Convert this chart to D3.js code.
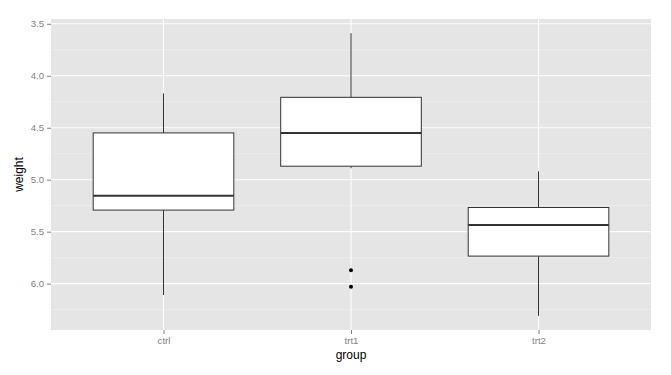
<!DOCTYPE html>
<html>
<head>
<meta charset="utf-8">
<script src="https://cdn.jsdelivr.net/npm/d3@7"></script>
<style>
body{margin:0;background:#fff;}
text{font-family:"Liberation Sans",Arial,sans-serif;}
</style>
</head>
<body>
<svg id="chart" width="671" height="375"></svg>
<script>
const groups = ["ctrl", "trt1", "trt2"];
const ctrl = [4.17, 5.58, 5.18, 6.11, 4.50, 4.61, 5.17, 4.53, 5.33, 5.14];
const trt1 = [4.81, 4.17, 4.41, 3.59, 5.87, 3.83, 6.03, 4.89, 4.32, 4.69];
const trt2 = [6.31, 5.12, 5.54, 5.50, 5.37, 5.29, 4.92, 6.15, 5.80, 5.26];
const yTicks = [3.5, 4.0, 4.5, 5.0, 5.5, 6.0];
const yMinor = [3.75, 4.25, 4.75, 5.25, 5.75, 6.25];
const yDomain = [3.454, 6.446];

const seriesData = {ctrl, trt1, trt2};
const svg = d3.select("#chart");
const pLeft = 51, pRight = 651, pTop = 19, pBottom = 330;

const y = d3.scaleLinear().domain(yDomain).range([pTop, pBottom]);
// discrete scale with 0.6 expansion on each side
const xi = d3.scaleLinear().domain([0.4, 3.6]).range([pLeft, pRight]);
const xc = g => xi(groups.indexOf(g) + 1);
const unit = xi(1) - xi(0);

svg.append("rect").attr("x", pLeft).attr("y", pTop).attr("width", pRight - pLeft).attr("height", pBottom - pTop).attr("fill", "#e5e5e5");

svg.selectAll(".minor").data(yMinor).enter().append("line")
  .attr("x1", pLeft).attr("x2", pRight).attr("y1", d => y(d)).attr("y2", d => y(d))
  .attr("stroke", "#f2f2f2").attr("stroke-width", 0.6);
svg.selectAll(".major").data(yTicks).enter().append("line")
  .attr("x1", pLeft).attr("x2", pRight).attr("y1", d => y(d)).attr("y2", d => y(d))
  .attr("stroke", "#ffffff").attr("stroke-width", 1.1);
svg.selectAll(".vmajor").data(groups).enter().append("line")
  .attr("y1", pTop).attr("y2", pBottom).attr("x1", d => xc(d)).attr("x2", d => xc(d))
  .attr("stroke", "#ffffff").attr("stroke-width", 1.1);

groups.forEach(g => {
  const v = seriesData[g].slice().sort(d3.ascending);
  const q1 = d3.quantile(v, 0.25), med = d3.quantile(v, 0.5), q3 = d3.quantile(v, 0.75);
  const iqr = q3 - q1;
  const lo = d3.min(v.filter(d => d >= q1 - 1.5 * iqr));
  const hi = d3.max(v.filter(d => d <= q3 + 1.5 * iqr));
  const out = v.filter(d => d < q1 - 1.5 * iqr || d > q3 + 1.5 * iqr);
  const cx = xc(g), w = 0.75 * unit;
  const grp = svg.append("g");
  grp.append("line").attr("x1", cx).attr("x2", cx).attr("y1", y(lo)).attr("y2", y(q1)).attr("stroke", "#333").attr("stroke-width", 1);
  grp.append("line").attr("x1", cx).attr("x2", cx).attr("y1", y(q3)).attr("y2", y(hi)).attr("stroke", "#333").attr("stroke-width", 1);
  grp.append("rect").attr("x", cx - w / 2).attr("y", y(q1)).attr("width", w).attr("height", y(q3) - y(q1))
    .attr("fill", "#fff").attr("stroke", "#333").attr("stroke-width", 1);
  grp.append("line").attr("x1", cx - w / 2).attr("x2", cx + w / 2).attr("y1", y(med)).attr("y2", y(med)).attr("stroke", "#333").attr("stroke-width", 2);
  grp.selectAll("circle").data(out).enter().append("circle")
    .attr("cx", cx).attr("cy", d => y(d)).attr("r", 2).attr("fill", "#000");
});

const yAxis = d3.axisLeft(y).tickValues(yTicks).tickFormat(d3.format(".1f")).tickSize(4).tickPadding(3);
const ya = svg.append("g").attr("transform", `translate(${pLeft},0)`).call(yAxis);
ya.select(".domain").remove();
ya.selectAll("line").attr("stroke", "#7f7f7f");
ya.selectAll("text").attr("fill", "#7f7f7f").style("font-size", "9.6px");

const xAxis = d3.axisBottom(d3.scalePoint().domain(groups).range([xc("ctrl"), xc("trt2")])).tickSize(4).tickPadding(3);
const xa = svg.append("g").attr("transform", `translate(0,${pBottom})`).call(xAxis);
xa.select(".domain").remove();
xa.selectAll("line").attr("stroke", "#7f7f7f");
xa.selectAll("text").attr("fill", "#7f7f7f").style("font-size", "9.6px");

svg.append("text").attr("x", (pLeft + pRight) / 2).attr("y", 359).attr("text-anchor", "middle")
  .style("font-size", "12px").attr("fill", "#000").text("group");
svg.append("text").attr("transform", `translate(23,${(pTop + pBottom) / 2}) rotate(-90)`).attr("text-anchor", "middle")
  .style("font-size", "12px").attr("fill", "#000").text("weight");
</script>
</body>
</html>
